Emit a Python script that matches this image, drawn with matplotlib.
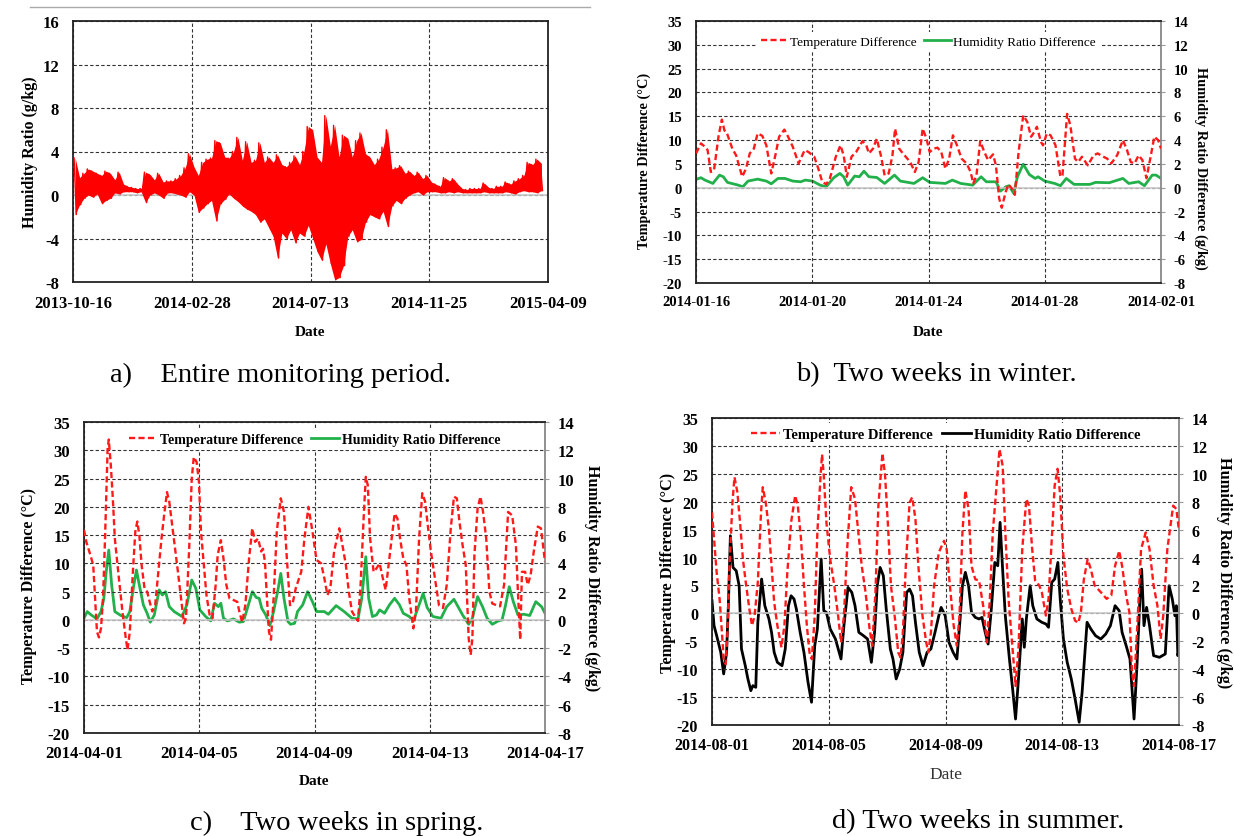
import datetime as dt
import matplotlib
matplotlib.use("Agg")
import matplotlib.pyplot as plt
import matplotlib.dates as mdates
from matplotlib.lines import Line2D

plt.rcParams['font.family'] = ['Liberation Serif', 'DejaVu Serif']
plt.rcParams['font.weight'] = 'bold'
plt.rcParams['axes.labelweight'] = 'bold'
plt.rcParams['axes.unicode_minus'] = False

# ---------------- data ----------------
# (a) entire monitoring period: 5-day window maxima / minima of humidity ratio difference (g/kg)
a_start = dt.datetime(2013, 10, 16)
a_window_days = 5
a_hi = [3.4, 1.6, 2.0, 2.4, 2.2, 2.0, 1.8, 2.2, 2.0, 1.4, 2.1, 1.0, 0.8, 0.7, 0.6, 0.6, 2.1, 1.9, 1.4, 2.0,
        1.2, 1.3, 1.3, 1.5, 1.8, 2.5, 3.8, 2.6, 1.8, 3.0, 3.3, 3.4, 5.0, 4.8, 3.5, 3.4, 4.0, 5.3, 3.2, 4.9,
        3.0, 3.2, 4.8, 3.0, 3.5, 3.0, 3.7, 2.8, 2.6, 3.0, 3.6, 2.8, 4.0, 6.3, 6.0, 3.5, 3.0, 7.3, 4.5, 6.4,
        3.5, 5.5, 5.2, 3.5, 5.0, 5.7, 3.8, 3.5, 2.8, 3.3, 4.4, 6.0, 2.4, 2.5, 2.7, 2.0, 2.2, 1.8, 2.1, 1.5,
        1.8, 1.2, 1.0, 0.8, 1.6, 1.3, 1.5, 1.0, 0.6, 0.5, 0.6, 0.6, 0.6, 1.1, 0.7, 0.6, 0.8, 0.8, 1.2, 1.0,
        1.3, 1.5, 1.8, 3.0, 2.8, 3.3, 2.9]
a_lo = [-1.8, -0.9, -0.3, 0.0, -0.2, 0.1, -0.8, -0.5, -0.3, 0.2, 0.1, 0.3, 0.3, 0.3, 0.2, 0.3, -0.7, 0.0, 0.2, 0.0,
        -0.3, 0.2, 0.2, 0.1, 0.0, -0.2, 0.3, 0.0, -1.6, -1.2, -0.8, -0.5, -2.4, -0.8, -0.4, 0.1, -0.3, -0.6, -1.0, -1.3,
        -1.5, -1.8, -2.5, -2.2, -3.0, -3.8, -5.8, -3.5, -4.0, -3.2, -4.4, -3.5, -3.8, -2.8, -4.0, -5.2, -6.0, -4.5, -6.3, -7.8,
        -7.6, -6.5, -3.8, -3.2, -4.3, -4.1, -2.5, -1.8, -2.0, -2.2, -1.5, -2.9, -1.0, -0.5, -0.8, -0.3, 0.0, 0.2, 0.3, 0.0,
        0.3, 0.3, 0.3, 0.2, 0.2, 0.3, 0.2, 0.3, 0.2, 0.2, 0.2, 0.2, 0.2, 0.3, 0.2, 0.2, 0.2, 0.2, 0.3, 0.2,
        0.1, 0.3, 0.4, 0.3, 0.3, 0.2, 0.4]
a_ticks = ['2013-10-16', '2014-02-28', '2014-07-13', '2014-11-25', '2015-04-09']

# (b) two weeks in winter
b_start = dt.datetime(2014, 1, 16)
b_ticks = ['2014-01-16', '2014-01-20', '2014-01-24', '2014-01-28', '2014-02-01']
b_temp_day = [0.00, 0.17, 0.31, 0.40, 0.51, 0.62, 0.78, 0.89, 0.98, 1.05, 1.25, 1.38, 1.59, 1.72, 1.85, 1.99, 2.12, 2.28,
              2.42, 2.59, 2.73, 2.86, 3.04, 3.17, 3.33, 3.53, 3.74, 3.87, 4.07, 4.21, 4.34, 4.48, 4.61, 4.81, 4.97, 5.08,
              5.19, 5.35, 5.51, 5.73, 5.86, 5.95, 6.09, 6.22, 6.36, 6.49, 6.63, 6.76, 6.85, 6.99, 7.12, 7.37, 7.53, 7.66,
              7.80, 7.93, 8.04, 8.17, 8.31, 8.44, 8.58, 8.71, 8.84, 8.98, 9.14, 9.31, 9.45, 9.54, 9.65, 9.78, 9.92, 10.05,
              10.22, 10.32, 10.43, 10.52, 10.66, 10.75, 10.86, 10.97, 11.10, 11.26, 11.40, 11.53, 11.64, 11.73, 11.87,
              11.94, 12.07, 12.20, 12.37, 12.54, 12.61, 12.77, 12.88, 13.04, 13.15, 13.28, 13.48, 13.68, 13.82, 14.02,
              14.15, 14.29, 14.49, 14.69, 14.83, 14.96, 15.09, 15.23, 15.36, 15.50, 15.63, 15.77, 15.90, 16.00]
b_temp = [7.2, 9.3, 8.6, 7.9, 3.3, 3.7, 11.0, 14.3, 12.0, 11.7, 8.2, 6.8, 2.3, 4.0, 7.2, 8.2, 11.4, 10.9,
          8.9, 3.0, 6.8, 10.7, 12.2, 10.7, 8.6, 5.1, 7.9, 7.5, 6.5, 4.0, 1.3, 0.7, 2.0, 6.5, 8.9, 6.8,
          2.3, 6.5, 7.5, 9.8, 8.9, 7.2, 8.2, 10.3, 6.8, 2.6, 3.0, 6.8, 12.4, 8.2, 7.2, 5.4, 3.3, 5.4,
          12.4, 10.3, 7.5, 8.2, 8.4, 7.5, 4.0, 6.1, 11.0, 8.9, 6.1, 5.1, 3.3, 0.9, 2.6, 9.8, 7.5, 5.8,
          7.0, 4.7, -2.2, -4.2, -0.8, 0.7, -0.1, -1.5, 7.5, 15.2, 13.8, 10.7, 11.7, 12.8, 9.6,
          8.9, 11.4, 11.0, 8.9, 2.3, 2.6, 15.5, 13.1, 6.1, 5.4, 6.5, 4.7, 6.8, 7.2, 6.5,
          6.1, 5.1, 6.8, 10.0, 7.9, 5.4, 5.1, 6.8, 5.8, 2.0, 6.1, 10.7, 10.0, 8.2]
b_hum_day = [0.00, 0.17, 0.31, 0.58, 0.81, 0.94, 1.08, 1.45, 1.61, 1.79, 2.12, 2.42, 2.59, 2.82, 3.06, 3.33, 3.60, 3.76,
             4.01, 4.27, 4.48, 4.74, 4.95, 5.08, 5.22, 5.46, 5.62, 5.78, 5.95, 6.22, 6.49, 6.83, 7.03, 7.50, 7.80, 8.04,
             8.58, 8.82, 9.11, 9.52, 9.81, 9.99, 10.32, 10.48, 10.66, 10.77, 10.93, 11.06, 11.26, 11.47, 11.67, 11.77,
             12.00, 12.34, 12.54, 12.74, 13.01, 13.55, 13.75, 14.22, 14.69, 14.89, 15.23, 15.43, 15.70, 15.83, 16.00]
b_hum = [0.70, 0.84, 0.64, 0.36, 1.06, 0.92, 0.45, 0.22, 0.08, 0.56, 0.72, 0.56, 0.33, 0.78, 0.78, 0.56, 0.50, 0.64,
         0.56, 0.22, 0.08, 0.84, 1.20, 0.92, 0.22, 0.98, 0.92, 1.39, 0.92, 0.86, 0.36, 1.06, 0.56, 0.36, 0.84, 0.45,
         0.36, 0.64, 0.36, 0.22, 0.92, 0.50, 0.50, -0.28, 0.08, 0.17, -0.47, 0.92, 1.98, 1.11, 0.78, 0.92,
         0.56, 0.36, 0.17, 0.78, 0.28, 0.28, 0.45, 0.42, 0.78, 0.36, 0.50, 0.17, 1.06, 1.06, 0.78]

# (c) two weeks in spring
c_start = dt.datetime(2014, 4, 1)
c_ticks = ['2014-04-01', '2014-04-05', '2014-04-09', '2014-04-13', '2014-04-17']
c_temp_day = [0.00, 0.08, 0.22, 0.32, 0.38, 0.45, 0.52, 0.59, 0.66, 0.73, 0.82, 0.86, 0.93, 1.00, 1.07, 1.21, 1.34, 1.45,
              1.51, 1.59, 1.69, 1.78, 1.85, 1.92, 2.00, 2.10, 2.19, 2.28, 2.37, 2.47, 2.58, 2.69, 2.78, 2.88, 2.96, 3.06,
              3.16, 3.26, 3.37, 3.47, 3.54, 3.65, 3.74, 3.81, 3.91, 3.99, 4.06, 4.16, 4.25, 4.36, 4.46, 4.57, 4.64, 4.75,
              4.84, 4.94, 5.05, 5.19, 5.32, 5.39, 5.49, 5.60, 5.73, 5.84, 5.94, 6.04, 6.15, 6.21, 6.28, 6.35, 6.42, 6.49,
              6.58, 6.69, 6.83, 6.94, 7.04, 7.15, 7.24, 7.35, 7.45, 7.54, 7.65, 7.79, 7.93, 8.07, 8.23, 8.34, 8.45, 8.55,
              8.68, 8.86, 8.97, 9.09, 9.19, 9.30, 9.44, 9.51, 9.60, 9.71, 9.78, 9.85, 9.93, 10.05, 10.15, 10.26, 10.37,
              10.47, 10.60, 10.78, 10.88, 10.97, 11.08, 11.19, 11.29, 11.43, 11.52, 11.63, 11.74, 11.84, 11.93, 12.04,
              12.18, 12.32, 12.46, 12.59, 12.73, 12.84, 12.94, 13.03, 13.14, 13.25, 13.35, 13.42, 13.48, 13.55, 13.66,
              13.76, 13.85, 13.96, 14.07, 14.17, 14.31, 14.44, 14.58, 14.72, 14.86, 14.99, 15.06, 15.14, 15.20, 15.31,
              15.40, 15.50, 15.61, 15.75, 15.86, 16.00]
c_temp = [15.9, 13.8, 11.5, 9.7, 4.4, -2.1, -3.1, -1.5, 3.8, 14.4, 30.3, 31.9, 27.4, 21.5, 14.4, 7.4, 1.2, -3.2,
          -5.3, -2.1, 7.9, 15.6, 17.4, 15.0, 9.7, 5.6, 5.0, 3.2, 1.5, 2.6, 8.5, 14.4, 18.5, 22.6, 20.9, 16.8,
          12.6, 8.5, 3.8, -0.6, 0.3, 12.6, 25.0, 28.8, 27.9, 24.4, 15.6, 9.7, 4.4, 0.9, 0.3, 6.2, 11.5, 14.1,
          10.9, 6.2, 3.8, 3.5, 3.2, 1.5, -0.4, 2.6, 10.9, 16.2, 13.8, 14.4, 12.1, 12.6, 10.3, 3.8, -2.1, -3.5,
          3.8, 15.6, 21.5, 19.1, 10.9, 2.6, 2.9, 5.6, 7.1, 8.5, 14.4, 20.0, 15.6, 10.6, 10.0, 7.4, 4.4, 5.6,
          12.1, 16.2, 13.2, 9.7, 5.0, 1.5, 0.3, -0.2, 6.2, 18.5, 25.3, 23.8, 14.4, 8.5, 9.1, 10.0, 7.4,
          5.3, 10.9, 18.8, 17.9, 14.4, 10.9, 9.7, 3.8, -1.5, 1.5, 14.4, 22.4, 20.9, 16.8, 12.1,
          7.4, 2.6, 2.1, 6.2, 16.2, 21.8, 21.5, 17.4, 13.2, 9.7, -3.2, -6.2, -3.2, 11.5, 19.7,
          21.8, 19.1, 14.4, 5.0, 2.9, 2.6, 2.4, 6.2, 19.1, 18.5, 13.2, 5.0, -3.5, 8.5, 8.5,
          6.2, 7.9, 12.1, 16.5, 16.2, 10.3]
c_hum_day = [0.00, 0.11, 0.25, 0.45, 0.59, 0.69, 0.77, 0.86, 0.96, 1.07, 1.28, 1.48, 1.59, 1.73, 1.82, 1.92, 2.06, 2.19,
             2.30, 2.44, 2.61, 2.72, 2.83, 2.96, 3.13, 3.40, 3.57, 3.74, 3.88, 4.02, 4.22, 4.40, 4.53, 4.66, 4.75, 4.84,
             4.98, 5.19, 5.39, 5.53, 5.67, 5.84, 5.98, 6.08, 6.17, 6.31, 6.45, 6.58, 6.72, 6.83, 6.94, 7.08, 7.17, 7.31,
             7.41, 7.59, 7.76, 7.93, 8.07, 8.34, 8.48, 8.75, 9.03, 9.30, 9.51, 9.64, 9.78, 9.88, 10.01, 10.15, 10.26,
             10.43, 10.60, 10.78, 10.95, 11.08, 11.29, 11.43, 11.63, 11.77, 11.91, 12.11, 12.39, 12.59, 12.84, 12.98,
             13.14, 13.35, 13.48, 13.66, 13.83, 13.99, 14.17, 14.38, 14.51, 14.62, 14.76, 14.90, 15.06, 15.27, 15.47,
             15.68, 15.88, 16.00]
c_hum = [0.12, 0.59, 0.35, 0.07, 0.59, 1.53, 3.41, 4.94, 2.47, 0.59, 0.31, 0.16, 0.59, 2.47, 3.53, 2.47, 1.06, 0.47,
         -0.16, 0.35, 2.12, 1.76, 2.00, 0.94, 0.59, 0.24, 1.06, 2.82, 2.24, 0.71, 0.24, -0.07, 1.18, 0.94, 1.18, 0.12,
         -0.07, 0.07, -0.16, -0.12, 0.82, 2.00, 1.58, 1.53, 0.82, 0.35, -0.40, 0.59, 2.00, 3.29, 1.53, -0.12, -0.31, -0.24,
         0.59, 1.06, 2.00, 1.29, 0.59, 0.59, 0.40, 1.01, 0.59, 0.12, 0.07, 1.53, 4.47, 1.53, 0.24, 0.35, 0.71,
         0.47, 1.06, 1.53, 1.06, 0.47, 0.24, -0.07, 1.06, 1.88, 0.87, 0.24, 0.12, 0.94, 1.46, 0.94,
         0.35, -0.31, 0.12, 1.65, 0.94, 0.12, -0.31, -0.07, 0.00, 0.94, 2.35, 1.29, 0.35, 0.40, 0.31,
         1.29, 0.94, 0.47]

# (d) two weeks in summer
d_start = dt.datetime(2014, 8, 1)
d_ticks = ['2014-08-01', '2014-08-05', '2014-08-09', '2014-08-13', '2014-08-17']
d_temp_day = [0.00, 0.07, 0.16, 0.26, 0.34, 0.40, 0.47, 0.52, 0.60, 0.70, 0.77, 0.87, 0.97, 1.06, 1.17, 1.28, 1.37, 1.46,
              1.57, 1.68, 1.74, 1.84, 1.95, 2.04, 2.13, 2.24, 2.38, 2.48, 2.58, 2.71, 2.85, 2.94, 3.05, 3.15, 3.25, 3.34,
              3.42, 3.52, 3.61, 3.72, 3.77, 3.83, 3.92, 4.05, 4.19, 4.32, 4.42, 4.52, 4.63, 4.77, 4.90, 4.99, 5.13, 5.26,
              5.40, 5.49, 5.60, 5.70, 5.84, 5.93, 6.03, 6.13, 6.27, 6.38, 6.46, 6.54, 6.64, 6.77, 6.86, 6.97, 7.07, 7.21,
              7.34, 7.41, 7.50, 7.61, 7.77, 7.95, 8.04, 8.15, 8.28, 8.39, 8.48, 8.58, 8.68, 8.79, 8.89, 9.02, 9.15, 9.29,
              9.42, 9.52, 9.62, 9.76, 9.85, 9.96, 10.05, 10.16, 10.27, 10.40, 10.50, 10.63, 10.77, 10.86, 10.97, 11.07,
              11.21, 11.30, 11.44, 11.53, 11.64, 11.74, 11.84, 11.93, 12.04, 12.17, 12.31, 12.44, 12.55, 12.64, 12.74,
              12.87, 12.98, 13.11, 13.32, 13.52, 13.68, 13.81, 13.95, 14.05, 14.19, 14.30, 14.39, 14.46, 14.56, 14.70,
              14.86, 14.99, 15.13, 15.26, 15.37, 15.46, 15.60, 15.80, 15.91, 16.00]
d_temp = [18.1, 13.3, 7.3, 2.6, -3.4, -8.2, -9.1, -4.6, 8.5, 19.9, 24.4, 21.7, 15.7, 9.7, 5.0, 0.8, -2.2, -0.4,
          5.6, 18.1, 22.6, 19.9, 15.1, 8.5, 2.0, -2.2, -6.1, -2.2, 7.3, 16.3, 21.1, 19.3, 13.3, 5.0, -2.2, -7.0,
          -8.2, -0.4, 14.5, 24.7, 28.5, 24.7, 16.3, 9.7, 5.0, -0.4, -5.2, -0.4, 11.5, 22.6, 20.5, 15.7, 8.5, 3.8,
          -2.8, -5.8, 3.8, 19.3, 28.7, 24.7, 15.7, 5.0, -1.0, -7.0, -7.9, -3.4, 8.5, 19.9, 20.8, 16.9, 8.5, -0.4,
          -5.2, -7.0, -3.4, 5.0, 10.9, 13.0, 11.5, 5.0, -2.2, -5.8, -0.4, 14.5, 22.0, 18.7, 8.5, 6.1, 5.9, 1.4,
          -5.2, 2.6, 14.5, 23.5, 29.4, 26.4, 14.5, 2.6, -4.6, -13.0, -6.4, 11.5, 20.5, 19.3, 11.5, 5.9,
          5.0, 3.8, -0.4, 2.6, 13.3, 22.9, 25.9, 21.1, 10.3, 4.4, 0.8, -1.3, -1.7, 0.2, 6.1,
          9.7, 7.9, 5.0, 3.8, 2.6, 3.2, 8.5, 11.2, 8.5, 3.2, 0.2, -10.6, -13.0, -3.4, 11.5,
          14.5, 11.5, 5.0, 1.4, -4.6, -0.4, 11.5, 19.3, 18.7, 14.8]
d_hum_day = [0.00, 0.07, 0.16, 0.30, 0.40, 0.50, 0.56, 0.63, 0.72, 0.83, 0.93, 1.01, 1.14, 1.23, 1.33, 1.40, 1.50, 1.57,
             1.64, 1.70, 1.81, 1.95, 2.04, 2.13, 2.24, 2.40, 2.51, 2.62, 2.71, 2.81, 2.89, 3.02, 3.15, 3.29, 3.41, 3.52,
             3.61, 3.69, 3.74, 3.83, 3.92, 4.05, 4.23, 4.42, 4.52, 4.66, 4.79, 4.90, 5.03, 5.19, 5.33, 5.46, 5.57, 5.66,
             5.76, 5.87, 5.97, 6.11, 6.20, 6.31, 6.43, 6.54, 6.67, 6.77, 6.87, 6.97, 7.10, 7.23, 7.37, 7.50, 7.64, 7.77,
             7.85, 7.99, 8.12, 8.26, 8.39, 8.50, 8.58, 8.68, 8.79, 8.89, 9.02, 9.15, 9.25, 9.36, 9.46, 9.56, 9.69, 9.79,
             9.87, 9.95, 10.05, 10.19, 10.30, 10.40, 10.50, 10.63, 10.70, 10.77, 10.90, 10.99, 11.13, 11.30, 11.44,
             11.53, 11.64, 11.74, 11.85, 11.93, 12.04, 12.17, 12.31, 12.44, 12.58, 12.68, 12.85, 12.98, 13.14, 13.32,
             13.49, 13.65, 13.81, 13.95, 14.05, 14.19, 14.32, 14.46, 14.56, 14.66, 14.72, 14.80, 14.89, 14.99, 15.13,
             15.33, 15.53, 15.66, 15.77, 15.86, 15.91, 15.96, 16.00]
d_hum = [0.91, -0.88, -1.60, -2.79, -4.34, -2.79, 0.55, 5.56, 3.29, 3.05, 1.98, -2.55, -3.75, -4.70, -5.54, -5.18, -5.30, -0.64,
         1.03, 2.46, 0.55, -0.40, -1.36, -2.79, -3.51, -3.75, -2.55, 0.55, 1.26, 1.03, 0.31, -1.36, -2.79, -4.94, -6.37, -2.32,
         -1.12, 1.98, 3.89, 0.19, 0.07, -1.12, -1.84, -3.27, -0.88, 1.86, 1.50, 0.55, -1.36, -1.60, -1.84, -3.51, -1.36, 1.98,
         3.29, 2.70, 0.31, -2.55, -3.27, -4.70, -3.99, -2.79, 1.50, 1.74, 1.26, -0.64, -2.79, -3.75, -2.79, -2.55, -1.36, -0.17,
         0.43, -0.17, -2.08, -2.79, -3.27, -0.40, 1.98, 2.94, 1.98, 0.07, -0.29, -0.40, -0.29, -1.36, -2.20, 0.07, 3.65, 3.41,
         6.52, 3.41, -0.17, -3.27, -5.42, -7.57, -4.70, -0.40, -2.43, -0.40, 1.98, 0.55, -0.40, -0.64, -0.76,
         -1.00, 2.22, 2.46, 3.65, 1.03, -1.84, -3.51, -4.70, -6.13, -7.80, -5.66, -0.64, -1.12, -1.60, -1.84,
         -1.48, -0.88, 0.55, 0.19, -1.36, -2.32, -3.27, -7.57, -3.75, 1.03, 3.17, -0.88, 0.43, -0.88, -3.03,
         -3.15, -2.91, 1.98, 1.03, -0.17, 0.55, -3.03, -2.55]

captions = ['a)    Entire monitoring period.', 'b)  Two weeks in winter.',
            'c)    Two weeks in spring.', 'd) Two weeks in summer.']

# ---------------- figure ----------------
W, H = 1234, 837
fig = plt.figure(figsize=(W / 100, H / 100), dpi=100)
fig.patch.set_facecolor('white')


def add_ax(x0, y0, x1, y1):
    return fig.add_axes([x0 / W, 1 - y1 / H, (x1 - x0) / W, (y1 - y0) / H])


def days_to_num(start, days):
    base = mdates.date2num(start)
    return [base + d for d in days]


def tick_nums(labels):
    return [mdates.date2num(dt.datetime.strptime(s, '%Y-%m-%d')) for s in labels]


def style_axes(ax, ticks, tsize, rgray=True):
    tn = tick_nums(ticks)
    ax.set_xlim(tn[0], tn[-1])
    ax.set_xticks(tn)
    ax.set_xticklabels(ticks)
    ax.grid(True, color='#333333', linestyle=(0, (3, 2)), linewidth=0.8)
    ax.set_axisbelow(True)
    ax.axhline(0, color='#c8c8c8', linewidth=1.2, zorder=1)
    for side in ['left', 'bottom', 'top']:
        ax.spines[side].set_color('#222222')
        ax.spines[side].set_linewidth(1.3)
    ax.spines['right'].set_color('#888888' if rgray else '#222222')
    ax.spines['right'].set_linewidth(1.3)
    ax.tick_params(axis='both', length=0, labelsize=tsize)
    ax.tick_params(axis='x', pad=9)
    ax.tick_params(axis='y', pad=10)


# ---- panel a ----
axa = add_ax(73, 22, 548, 283)
base_a = mdates.date2num(a_start)
a_c = [base_a + k * a_window_days + a_window_days / 2 for k in range(len(a_hi))]
axa.fill_between(a_c, a_lo, a_hi, color='#ff0000', linewidth=0, zorder=3)
a_x, a_y = [], []
for k, (hi, lo) in enumerate(zip(a_hi, a_lo)):
    a_x += [base_a + k * a_window_days + 1.25, base_a + k * a_window_days + 3.75]
    a_y += [hi, lo]
axa.plot(a_x, a_y, color='#ff0000', linewidth=1.0, zorder=3)
style_axes(axa, a_ticks, 12, rgray=False)
axa.set_ylim(-8, 16)
axa.set_yticks(range(-8, 17, 4))
axa.set_ylabel('Humidity Ratio (g/kg)', fontsize=11.5)
axa.yaxis.set_label_coords(-0.074, 0.5)
axa.set_xlabel('Date', fontsize=11)
axa.xaxis.set_label_coords(0.5, -0.165)
fig.add_artist(Line2D([30 / W, 590 / W], [1 - 8 / H, 1 - 8 / H], color='#aaaaaa', linewidth=1.0))


def two_axis_panel(box, start, ticks, tday, tval, hday, hval, hcolor, tsize, lsize, legw, legsize, legpad,
                   ylab_xy, rlab_xy, xlab_y, xlab_w, xlab_color, xlab_size):
    ax = add_ax(*box)
    style_axes(ax, ticks, tsize)
    ax.set_ylim(-20, 35)
    ax.set_yticks(range(-20, 36, 5))
    ax2 = ax.twinx()
    ax2.set_ylim(-8, 14)
    ax2.set_yticks(range(-8, 15, 2))
    ax2.tick_params(axis='y', length=3, color='#999999', labelsize=tsize, pad=6)
    for s in ax2.spines.values():
        s.set_visible(False)
    l1, = ax.plot(days_to_num(start, tday), tval, color='#ff1a1a', linewidth=1.7,
                  linestyle=(0, (2.6, 1.4)), zorder=4, label='Temperature Difference')
    l2, = ax2.plot(days_to_num(start, hday), hval, color=hcolor, linewidth=2.0, zorder=3,
                   label='Humidity Ratio Difference')
    ax.set_zorder(ax2.get_zorder() + 1)
    ax.patch.set_visible(False)
    ax.set_ylabel('Temperature Difference (°C)', fontsize=lsize)
    ax.yaxis.set_label_coords(*ylab_xy)
    ax2.set_ylabel('Humidity Ratio Difference (g/kg)', fontsize=lsize, rotation=270, va='bottom')
    ax2.yaxis.set_label_coords(*rlab_xy)
    ax.set_xlabel('Date', fontsize=xlab_size, fontweight=xlab_w, color=xlab_color)
    ax.xaxis.set_label_coords(0.5, xlab_y)
    leg = ax.legend(handles=[l1, l2], loc='upper center', bbox_to_anchor=(0.5, 1.0), ncol=2,
                    frameon=True, facecolor='white', edgecolor='none', framealpha=1.0,
                    prop={'weight': legw, 'size': legsize}, handlelength=2.0, handletextpad=0.2,
                    columnspacing=0.6, borderaxespad=legpad, borderpad=0.3)
    leg.set_zorder(10)
    return ax, ax2


two_axis_panel((696, 22, 1161, 284), b_start, b_ticks, b_temp_day, b_temp, b_hum_day, b_hum,
               '#22b04b', 10.5, 10.3, 'normal', 9.5, 0.8, (-0.097, 0.47), (1.07, 0.44), -0.16, 'bold', 'black', 11)
two_axis_panel((84, 423, 545, 734), c_start, c_ticks, c_temp_day, c_temp, c_hum_day, c_hum,
               '#22b04b', 12, 11.5, 'bold', 10, 0.5, (-0.102, 0.476), (1.085, 0.5), -0.132, 'bold', 'black', 11)
two_axis_panel((712, 419, 1179, 726), d_start, d_ticks, d_temp_day, d_temp, d_hum_day, d_hum,
               '#000000', 11.5, 11.8, 'bold', 10.5, 0.35, (-0.077, 0.5), (1.08, 0.5), -0.134, 'normal', '#333333', 12.5)

# captions
cap_pos = [(280, 375), (936, 375), (337, 823), (978, 822)]
for (cx, cy), txt in zip(cap_pos, captions):
    fig.text(cx / W, 1 - cy / H, txt, ha='center', va='center', fontsize=20.5, fontweight='normal')

fig.savefig('out.png', dpi=100)
